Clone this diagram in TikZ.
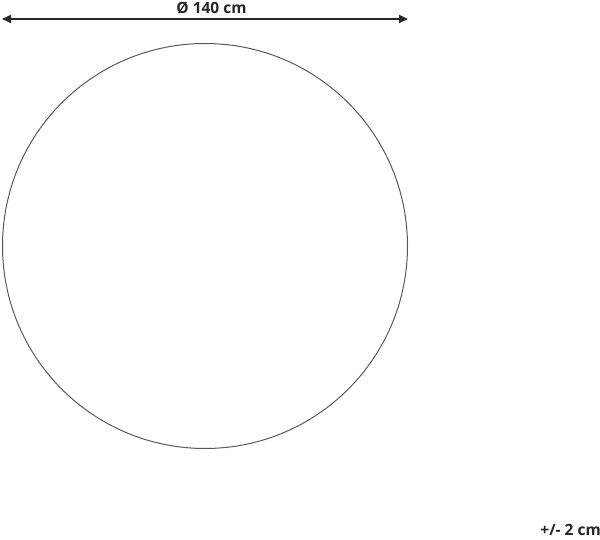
\documentclass[tikz,border=0pt]{standalone}
\usepackage{fontspec}
\setmainfont{Open Sans}
\usetikzlibrary{arrows.meta}

\begin{document}
\begin{tikzpicture}
[x=1pt,y=-1pt,
rim/.style={circle,draw=black!65,line width=1pt,minimum size=405pt,inner sep=0pt},
dim/.style={{Triangle[length=9pt,width=8pt]}-{Triangle[length=9pt,width=8pt]},line width=2pt,draw=black!85},
lbl/.style={font=\bfseries\fontsize{15.5}{18}\selectfont,text=black!85,inner sep=0pt}]

\useasboundingbox (0,0) rectangle (600,540);
\node at (205,246) [rim] (rug) {};
\coordinate (dimleft)  at (2,19);
\coordinate (dimright) at (408,19);
\draw [dim] (dimleft) to (dimright);
\node at (211.5,8) [lbl] (diam) {Ø 140 cm};
\node at (601,530) [lbl,anchor=east] (tol) {+/- 2 cm};
\end{tikzpicture}
\end{document}
